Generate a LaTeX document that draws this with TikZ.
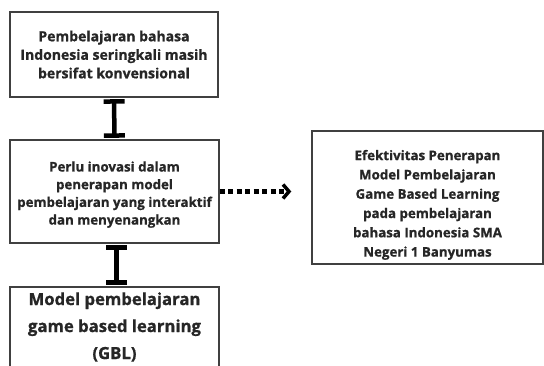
\documentclass[tikz,border=0pt]{standalone}
\usepackage{fontspec}
\setmainfont{Open Sans}[BoldFeatures={FakeBold=0.8}]
\usetikzlibrary{arrows.meta}
\newcommand{\shiftedlines}[2]{\raisebox{#1}[\height][\depth]{\begin{tabular}{@{}c@{}}#2\end{tabular}}}
\begin{document}
\begin{tikzpicture}[x=1pt,y=-1pt,
  box/.style={draw=black!75, line width=1.4pt, fill=white, align=center,
    font=\bfseries, text=black!85, inner sep=0pt},
  ibar/.style={line width=4.5pt, {Bar[width=21pt,line width=4.5pt]}-{Bar[width=21pt,line width=4.5pt]}, shorten <=1.5pt, shorten >=1.5pt},
  dotarrow/.style={line width=4.5pt, dash pattern=on 5pt off 3.5pt, -{Straight Barb[length=6pt,width=14pt,line width=3.5pt]}}
]
\useasboundingbox (0,0) rectangle (544,365);
\clip (0,0) rectangle (544,365);
\node[box, minimum width=208pt, minimum height=85pt, font=\bfseries\fontsize{14}{18.5}\selectfont] (b1) at (114,54.5)
  {Pembelajaran bahasa\\Indonesia seringkali masih\\bersifat konvensional};
\node[box, minimum width=209pt, minimum height=103pt, font=\bfseries\fontsize{13.3}{17.7}\selectfont] (b2) at (114.5,191.5)
  {\shiftedlines{-3pt}{Perlu inovasi dalam\\penerapan model\\pembelajaran yang interaktif\\dan menyenangkan}};
\node[box, minimum width=209pt, minimum height=80pt, font=\bfseries\fontsize{16.7}{27}\selectfont] (b3) at (114.5,327)
  {Model pembelajaran\\game based learning\\(GBL)};
\node[box, minimum width=231pt, minimum height=133pt, font=\bfseries\fontsize{13.3}{19.3}\selectfont] (b4) at (427.5,197.5)
  {\shiftedlines{-7pt}{Efektivitas Penerapan\\Model Pembelajaran\\Game Based Learning\\pada pembelajaran\\bahasa Indonesia SMA\\Negeri 1 Banyumas}};
\draw[ibar] (b1.south) -- (b2.north);
\draw[ibar] ([xshift=2pt]b2.south) -- ([xshift=2pt]b3.north);
\coordinate (tip) at ([xshift=-20pt]b4.west |- b2.east);
\draw[dotarrow] (b2.east) -- (tip);
\end{tikzpicture}
\end{document}
